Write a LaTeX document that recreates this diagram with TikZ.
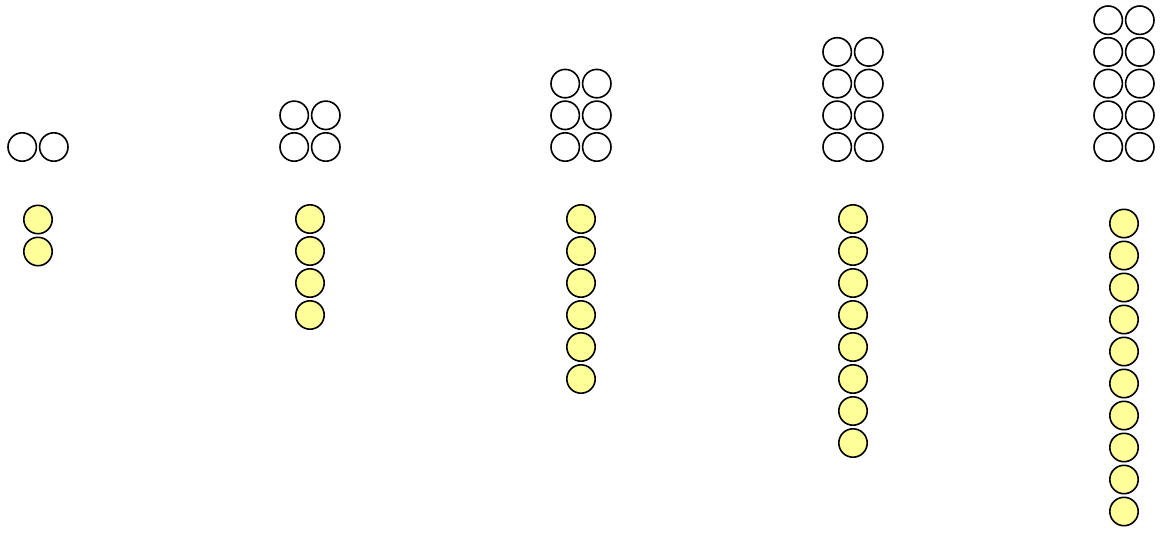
\documentclass[tikz,border=0pt]{standalone}
\usepackage{xcolor}
\usepackage{tikz}
\usetikzlibrary{positioning}
\definecolor{beadyellow}{HTML}{FFFF99}

\begin{document}
\begin{tikzpicture}[x=1pt, y=-1pt,
  slot/.style={circle, draw=black, line width=1.6pt, minimum size=28.4pt, inner sep=0pt},
  bead/.style={slot, fill=beadyellow},
]
  \useasboundingbox (0,0) rectangle (1160,539);

  % one group per column: g rows of empty pairs, 2g beads below
  \foreach \g/\cx/\ytop in {1/38/219.5, 2/310/219, 3/581/219, 4/853/219, 5/1124/223.5} {
    \foreach \r in {1,...,\g} {
      \node[slot] (w\g-\r-l) at ({\cx-15.8},{147-31.7*(\r-1)}) {};
      \node[slot] (w\g-\r-r) at ({\cx+15.8},{147-31.7*(\r-1)}) {};
    }
    \pgfmathtruncatemacro\nb{2*\g}
    \foreach \k in {1,...,\nb}
      \node[bead] (y\g-\k) at (\cx,{\ytop+32*(\k-1)}) {};
  }
\end{tikzpicture}
\end{document}
